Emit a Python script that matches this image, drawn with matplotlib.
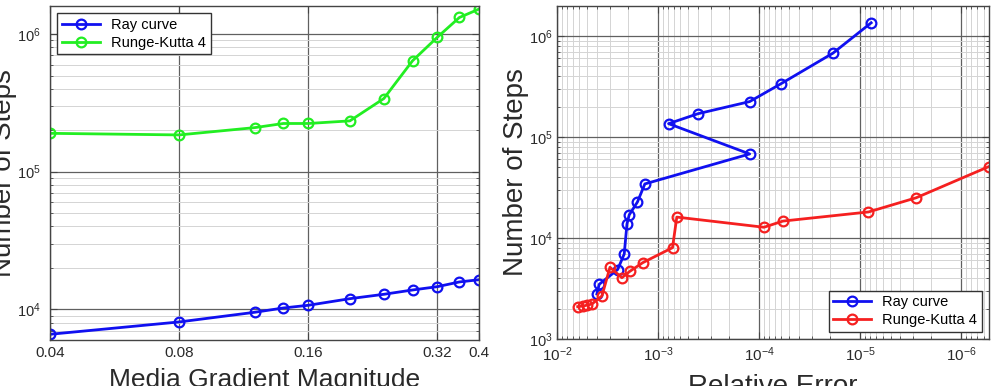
import matplotlib
matplotlib.use("Agg")
import matplotlib.pyplot as plt
from matplotlib.ticker import FixedLocator, FixedFormatter, NullLocator, LogLocator, NullFormatter

plt.rcParams["font.family"] = ["Liberation Sans", "DejaVu Sans"]

# left panel: steps vs media gradient magnitude
gradient = [0.04, 0.08, 0.12, 0.14, 0.16, 0.20, 0.24, 0.28, 0.32, 0.36, 0.40]
ray_steps = [6580, 8090, 9510, 10220, 10690, 11940, 12850, 13810, 14600, 15800, 16400]
rk4_steps = [1.90e5, 1.85e5, 2.09e5, 2.24e5, 2.24e5, 2.34e5, 3.40e5, 6.40e5, 9.50e5, 1.32e6, 1.52e6]
gradient_ticks = [0.04, 0.08, 0.16, 0.32, 0.4]
gradient_labels = ["0.04", "0.08", "0.16", "0.32", "0.4"]

# right panel: steps vs relative error
ray_err = [4.03e-3, 3.82e-3, 2.51e-3, 2.16e-3, 2.03e-3, 1.93e-3, 1.60e-3, 1.35e-3,
           1.24e-4, 7.87e-4, 4.02e-4, 1.24e-4, 6.12e-5, 1.86e-5, 7.77e-6]
ray_err_steps = [2790, 3480, 4870, 6950, 13770, 16900, 22700, 34300,
                 67900, 1.355e5, 1.70e5, 2.24e5, 3.35e5, 6.75e5, 1.35e6]
rk4_err = [6.24e-3, 5.50e-3, 5.09e-3, 4.51e-3, 3.59e-3, 2.99e-3, 2.28e-3, 1.90e-3,
           1.42e-3, 7.19e-4, 6.52e-4, 8.95e-5, 5.81e-5, 8.26e-6, 2.79e-6, 5.35e-7]
rk4_err_steps = [2090, 2120, 2160, 2220, 2670, 5130, 4040, 4680,
                 5690, 8020, 16100, 12770, 14700, 18100, 25000, 50800]

BLUE = "#1010f0"
GREEN = "#22ee22"
RED = "#f52020"
TXT = "#2a2a2a"

W, H = 996, 386
fig = plt.figure(figsize=(W / 100, H / 100), dpi=100)


def px_axes(x0, y0, x1, y1):
    return fig.add_axes([x0 / W, 1 - y1 / H, (x1 - x0) / W, (y1 - y0) / H])


def style(ax, ypad):
    ax.set_facecolor("white")
    for s in ax.spines.values():
        s.set_color("#444444")
        s.set_linewidth(1.0)
    ax.tick_params(which="both", direction="in", top=True, right=True,
                   colors="#444444", labelcolor=TXT)
    ax.tick_params(axis="x", labelsize=11, pad=4.3)
    ax.tick_params(axis="y", labelsize=10.5, pad=ypad)
    ax.tick_params(which="major", length=5)
    ax.tick_params(which="minor", length=2.5)
    ax.grid(which="major", color="#606060", linewidth=0.9)
    ax.grid(which="minor", color="#d4d4d4", linewidth=0.7)
    ax.set_axisbelow(True)


line_kw = dict(marker="o", markersize=7, markerfacecolor="none",
               markeredgewidth=1.6, linewidth=2.0)
leg_kw = dict(fontsize=10.5, fancybox=False, framealpha=1, edgecolor="#333333",
              borderpad=0.3, handlelength=2.6, labelspacing=0.3, borderaxespad=0.5)

# ---- left panel
ax1 = px_axes(50, 6, 479, 340)
ax1.plot(gradient, ray_steps, color=BLUE, label="Ray curve", **line_kw)
ax1.plot(gradient, rk4_steps, color=GREEN, label="Runge-Kutta 4", **line_kw)
ax1.set_xscale("log")
ax1.set_yscale("log")
ax1.set_xlim(0.04, 0.4)
ax1.set_ylim(5980, 1.6e6)
ax1.xaxis.set_major_locator(FixedLocator(gradient_ticks))
ax1.xaxis.set_major_formatter(FixedFormatter(gradient_labels))
ax1.xaxis.set_minor_locator(NullLocator())
ax1.yaxis.set_minor_locator(LogLocator(base=10, subs=range(2, 10)))
ax1.yaxis.set_minor_formatter(NullFormatter())
style(ax1, ypad=6.5)
ax1.set_ylabel("Number of Steps", fontsize=20, color=TXT)
ax1.yaxis.set_label_coords((17 - 50) / 429, 0.5)
ax1.set_xlabel("Media Gradient Magnitude", fontsize=19, color=TXT, labelpad=6)
leg1 = ax1.legend(loc="upper left", **leg_kw)
leg1.get_frame().set_linewidth(1.0)

# ---- right panel
ax2 = px_axes(557, 6, 989, 339)
ax2.plot(ray_err, ray_err_steps, color=BLUE, label="Ray curve", **line_kw)
ax2.plot(rk4_err, rk4_err_steps, color=RED, label="Runge-Kutta 4", **line_kw)
ax2.set_xscale("log")
ax2.set_yscale("log")
ax2.set_xlim(1e-2, 5.3e-7)
ax2.set_ylim(1e3, 1.98e6)
ax2.xaxis.set_minor_locator(LogLocator(base=10, subs=range(2, 10)))
ax2.xaxis.set_minor_formatter(NullFormatter())
ax2.yaxis.set_minor_locator(LogLocator(base=10, subs=range(2, 10)))
ax2.yaxis.set_minor_formatter(NullFormatter())
style(ax2, ypad=3)
ax2.set_ylabel("Number of Steps", fontsize=20, color=TXT)
ax2.yaxis.set_label_coords((529 - 557) / 432, 0.5)
ax2.set_xlabel("Relative Error", fontsize=20, color=TXT, labelpad=7.5)
leg2 = ax2.legend(loc="lower right", **leg_kw)
leg2.get_frame().set_linewidth(1.0)

fig.savefig("out.png", dpi=100)
